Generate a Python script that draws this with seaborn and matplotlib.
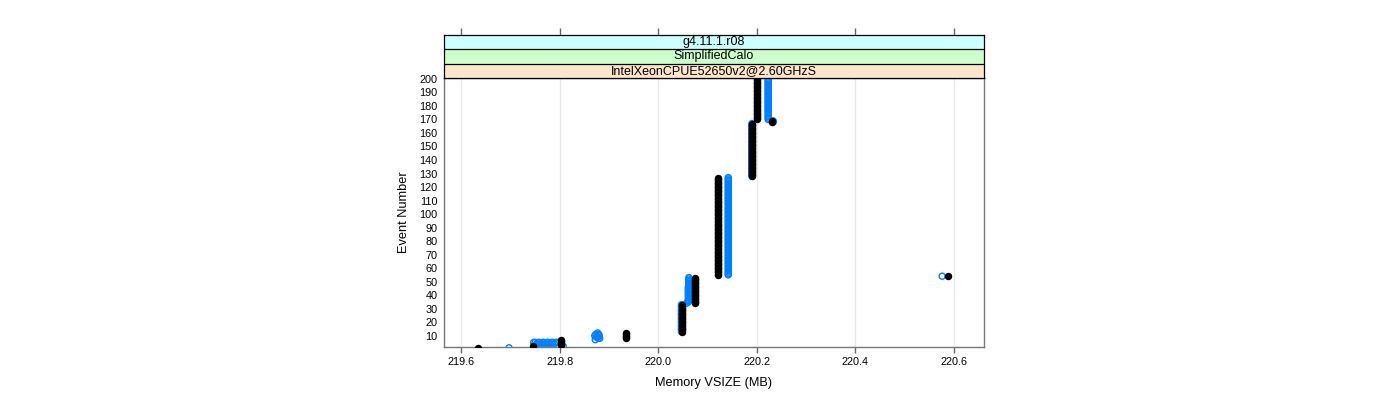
import numpy as np
import pandas as pd
import matplotlib
matplotlib.use("Agg")
import matplotlib.pyplot as plt
import seaborn as sns

# ---------------- data ----------------
# Black series: runs of events sharing one memory value
black_start = [1, 2, 3, 8, 13, 34, 54, 55, 128, 168, 170]
black_end   = [1, 2, 7, 12, 33, 53, 54, 127, 167, 169, 200]
black_mem   = [219.634, 219.746, 219.803, 219.935, 220.048, 220.075,
               220.588, 220.121, 220.190, 220.230, 220.200]

# Blue series: runs of events sharing one memory value
blue_start = [1, 2, 13, 34, 35, 47, 54, 55, 128, 168, 170]
blue_end   = [1, 2, 33, 34, 46, 53, 54, 127, 167, 169, 200]
blue_mem   = [219.697, 219.807, 220.047, 220.057, 220.061, 220.062,
              220.576, 220.142, 220.190, 220.233, 220.223]
# Blue scattered points (horizontal band and blob near the start)
blue_extra_event = [5, 5, 4, 5, 5, 4, 5, 5, 4, 5, 5, 4, 5, 5, 4, 5, 5,
                    7, 8, 9, 10, 11, 12, 8, 10, 9, 11]
blue_extra_mem   = [219.747, 219.750, 219.753, 219.756, 219.759, 219.762, 219.765,
                    219.768, 219.771, 219.774, 219.777, 219.780, 219.783, 219.786,
                    219.789, 219.792, 219.796,
                    219.872, 219.878, 219.874, 219.880, 219.873, 219.877, 219.881,
                    219.871, 219.876, 219.879]

x_ticks = [219.6, 219.8, 220.0, 220.2, 220.4, 220.6]
x_tick_labels = ["219.6", "219.8", "220.0", "220.2", "220.4", "220.6"]
y_ticks = list(range(10, 201, 10))
strip_labels = ["IntelXeonCPUE52650v2@2.60GHzS", "SimplifiedCalo", "g4.11.1.r08"]
strip_colors = ["#ffe5cc", "#ccffcc", "#ccffff"]


def expand(starts, ends, mems):
    ev, mv = [], []
    for s, e, m in zip(starts, ends, mems):
        for k in range(s, e + 1):
            ev.append(k)
            mv.append(m)
    return ev, mv


b_ev, b_mem = expand(black_start, black_end, black_mem)
u_ev, u_mem = expand(blue_start, blue_end, blue_mem)
u_ev = u_ev + blue_extra_event
u_mem = u_mem + blue_extra_mem

df_black = pd.DataFrame({"mem": b_mem, "event": b_ev})
df_blue = pd.DataFrame({"mem": u_mem, "event": u_ev})

# ---------------- styling ----------------
sns.set_theme(style="white")
plt.rcParams["font.family"] = ["Liberation Sans", "DejaVu Sans"]
plt.rcParams["text.color"] = "black"
plt.rcParams["axes.labelcolor"] = "black"
plt.rcParams["xtick.color"] = "black"
plt.rcParams["ytick.color"] = "black"

W, H = 1400, 400
fig = plt.figure(figsize=(14, 4), dpi=100)
fig.patch.set_facecolor("white")

px_l, px_r, px_t, px_b = 444, 984, 78, 347
ax = fig.add_axes([px_l / W, (H - px_b) / H, (px_r - px_l) / W, (px_b - px_t) / H])

xlim = (219.565, 220.661)
ylim = (1.6, 200.7)

for xt in x_ticks:
    ax.axvline(xt, color="#e8e8e8", lw=1, zorder=0)

blue = "#0080ff"
sns.scatterplot(data=df_blue, x="mem", y="event", ax=ax, marker="o", s=19,
                color=blue, edgecolor=blue, linewidth=1.0, zorder=2, legend=False)
ax.collections[-1].set_facecolor("none")
sns.scatterplot(data=df_black, x="mem", y="event", ax=ax, marker="o", s=19,
                color="black", edgecolor="black", linewidth=1.0, zorder=3, legend=False)

ax.set_xlim(*xlim)
ax.set_ylim(*ylim)
ax.set_xticks(x_ticks)
ax.set_xticklabels(x_tick_labels)
ax.set_yticks(y_ticks)
ax.set_yticklabels([str(v) for v in y_ticks])
ax.tick_params(axis="x", direction="out", length=4.5, width=1, color="#666666",
               labelsize=7.8, labelcolor="black", pad=3, bottom=True)
ax.tick_params(axis="y", length=0, labelsize=7.8, labelcolor="black", pad=4.5, left=True)
for sp in ax.spines.values():
    sp.set_color("#777777")
    sp.set_linewidth(1)

ax.set_xlabel("Memory VSIZE (MB)", fontsize=9.2, color="black")
ax.xaxis.label.set_va("center")
ax.xaxis.set_label_coords(0.5, (px_b - 383) / (px_b - px_t))
ax.set_ylabel("Event Number", fontsize=9.2, color="black")
ax.yaxis.label.set_va("center")
ax.yaxis.set_label_coords((404 - px_l) / (px_r - px_l), 0.5)

# strips
st_top = 35
sax = fig.add_axes([px_l / W, (H - px_t) / H, (px_r - px_l) / W, (px_t - st_top) / H])
sax.set_xlim(*xlim)
sax.set_ylim(0, 3)
for i, (lab, col) in enumerate(zip(strip_labels, strip_colors)):
    sax.axhspan(i, i + 1, color=col, zorder=0)
    sax.text(np.mean(xlim), i + 0.5, lab, ha="center", va="center", fontsize=9,
             color="black")
for yy in (1, 2):
    sax.axhline(yy, color="black", lw=0.9)
sax.xaxis.tick_top()
sax.set_xticks(x_ticks)
sax.tick_params(axis="x", top=True, bottom=False, labeltop=False, labelbottom=False,
                direction="out", length=5, width=1, color="#666666")
sax.set_yticks([])
for sp in sax.spines.values():
    sp.set_color("black")
    sp.set_linewidth(0.9)

fig.savefig("out.png", dpi=100)
